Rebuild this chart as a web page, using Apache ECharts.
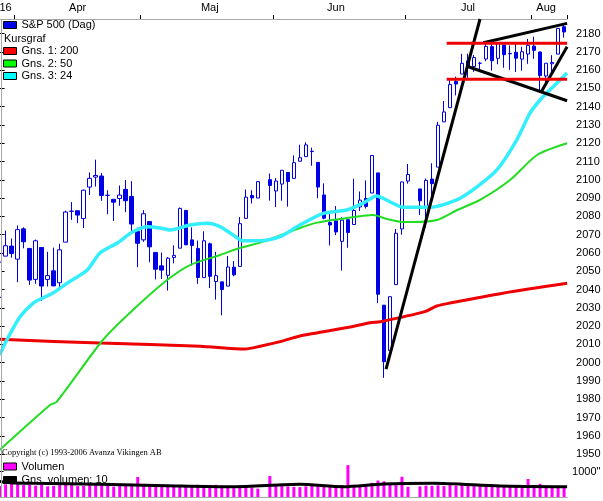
<!DOCTYPE html>
<html>
<head>
<meta charset="utf-8">
<script src="https://cdn.jsdelivr.net/npm/echarts@6/dist/echarts.min.js"></script>
<style>
  html, body { margin: 0; padding: 0; background: #fff; }
  #chart { width: 603px; height: 501px; }
</style>
</head>
<body>
<div id="chart"></div>
<script>
// one slot per weekday, holidays stay empty
const days = [
  '03-29','03-30','03-31',
  '04-01','04-04','04-05','04-06','04-07','04-08','04-11','04-12','04-13','04-14','04-15',
  '04-18','04-19','04-20','04-21','04-22','04-25','04-26','04-27','04-28','04-29',
  '05-02','05-03','05-04','05-05','05-06','05-09','05-10','05-11','05-12','05-13','05-16',
  '05-17','05-18','05-19','05-20','05-23','05-24','05-25','05-26','05-27','05-30','05-31',
  '06-01','06-02','06-03','06-06','06-07','06-08','06-09','06-10','06-13','06-14','06-15',
  '06-16','06-17','06-20','06-21','06-22','06-23','06-24','06-27','06-28','06-29','06-30',
  '07-01','07-04','07-05','07-06','07-07','07-08','07-11','07-12','07-13','07-14','07-15',
  '07-18','07-19','07-20','07-21','07-22','07-25','07-26','07-27','07-28','07-29',
  '08-01','08-02','08-03','08-04','08-05','08-08'
];

const opens = [
  2035.75, 2058.27, 2063.77,
  2056.62, 2073.19, 2062.50, 2045.56, 2063.01, 2045.54, 2050.23, 2043.72, 2065.92, 2082.89, 2083.10,
  2078.83, 2096.05, 2101.52, 2102.09, 2091.49, 2089.37, 2089.84, 2094.80, 2090.93, 2071.82,
  2067.17, 2077.18, 2060.30, 2052.95, 2047.77, 2057.55, 2062.63, 2083.29, 2067.17, 2062.50, 2046.53,
  2065.04, 2044.38, 2044.21, 2041.88, 2052.23, 2052.65, 2078.93, 2091.44, 2090.06, null, 2100.13,
  2093.94, 2097.71, 2104.07, 2100.83, 2110.18, 2112.71, 2115.65, 2109.57, 2091.75, 2076.65, 2077.60,
  2066.36, 2078.20, 2075.58, 2085.19, 2089.75, 2092.80, 2103.81, 2031.45, 2006.67, 2042.69, 2073.17,
  2099.34, null, 2095.05, 2084.43, 2100.42, 2106.97, 2131.72, 2139.50, 2153.81, 2157.88, 2165.13,
  2162.04, 2163.79, 2166.10, 2172.91, 2166.47, 2173.71, 2168.97, 2169.81, 2166.05, 2168.83,
  2173.15, 2169.94, 2156.81, 2163.51, 2168.79, 2183.76
];
const closes = [
  2055.01, 2063.95, 2059.74,
  2072.78, 2066.13, 2045.17, 2066.66, 2041.91, 2047.60, 2041.99, 2061.72, 2082.42, 2082.78, 2080.73,
  2094.34, 2100.80, 2102.40, 2091.48, 2091.58, 2087.79, 2091.70, 2088.60, 2075.81, 2065.30,
  2081.43, 2063.37, 2051.12, 2050.63, 2057.14, 2058.69, 2084.39, 2064.46, 2064.11, 2046.61, 2066.66,
  2047.21, 2047.63, 2040.04, 2052.32, 2048.04, 2076.06, 2090.54, 2090.10, 2099.06, null, 2096.95,
  2099.33, 2105.26, 2099.13, 2109.41, 2112.13, 2119.12, 2115.48, 2096.07, 2079.06, 2075.32, 2071.50,
  2077.99, 2071.22, 2083.25, 2088.90, 2085.45, 2113.32, 2037.41, 2000.54, 2036.09, 2070.77, 2098.86,
  2102.95, null, 2088.55, 2099.73, 2097.90, 2129.90, 2137.16, 2152.14, 2152.43, 2163.75, 2161.74,
  2166.89, 2163.78, 2173.02, 2165.17, 2175.03, 2168.48, 2169.18, 2166.58, 2170.06, 2173.60,
  2170.84, 2157.03, 2163.79, 2164.25, 2182.87, 2180.89
];
const lows = [
  2028.31, 2058.27, 2057.46,
  2043.98, 2062.57, 2042.56, 2043.09, 2033.80, 2041.69, 2041.88, 2039.74, 2065.92, 2078.13, 2076.31,
  2073.65, 2091.68, 2096.32, 2088.52, 2081.20, 2077.52, 2085.80, 2082.31, 2071.62, 2052.28,
  2066.11, 2054.89, 2045.55, 2045.77, 2039.45, 2054.31, 2062.63, 2064.46, 2053.13, 2043.13, 2046.53,
  2040.82, 2034.49, 2025.91, 2041.88, 2047.26, 2052.65, 2078.93, 2087.08, 2090.06, null, 2088.66,
  2085.10, 2088.59, 2085.36, 2100.83, 2110.18, 2112.71, 2107.73, 2089.96, 2078.46, 2064.10, 2069.80,
  2050.37, 2062.84, 2075.58, 2083.02, 2084.36, 2092.80, 2032.57, 1991.68, 2006.67, 2042.69, 2070.00,
  2097.90, null, 2080.86, 2074.02, 2089.39, 2106.97, 2131.72, 2139.50, 2146.21, 2157.88, 2155.79,
  2159.07, 2159.01, 2164.89, 2159.75, 2163.24, 2161.35, 2160.18, 2159.07, 2159.74, 2163.49,
  2166.21, 2147.58, 2152.53, 2159.07, 2168.79, 2177.85
];
const highs = [
  2055.91, 2072.21, 2067.92,
  2075.07, 2074.02, 2062.50, 2067.33, 2063.01, 2060.63, 2062.93, 2065.05, 2083.18, 2087.84, 2083.22,
  2094.66, 2104.05, 2111.05, 2103.78, 2094.32, 2089.37, 2096.87, 2099.89, 2099.30, 2073.85,
  2083.42, 2077.18, 2060.30, 2060.23, 2057.72, 2064.15, 2084.87, 2083.29, 2073.99, 2066.79, 2071.88,
  2065.69, 2060.61, 2044.21, 2058.35, 2055.58, 2079.67, 2094.73, 2094.30, 2099.06, null, 2103.48,
  2100.97, 2105.26, 2104.07, 2113.36, 2119.22, 2120.55, 2117.64, 2109.57, 2098.12, 2081.30, 2085.65,
  2079.62, 2078.20, 2100.66, 2093.66, 2099.71, 2113.32, 2103.81, 2031.45, 2036.09, 2073.13, 2098.94,
  2108.71, null, 2095.05, 2100.72, 2109.08, 2131.71, 2143.16, 2155.40, 2156.45, 2168.99, 2169.05,
  2168.35, 2164.63, 2175.63, 2174.56, 2175.11, 2173.71, 2173.54, 2174.98, 2172.85, 2177.09,
  2178.29, 2170.20, 2163.79, 2168.19, 2182.87, 2185.44
];

// volume (scale: label 1000")
const volumes = [
  430, 500, 560,
  520, 470, 480, 450, 500, 420, 440, 470, 510, 480, 430, 440, 470, 520, 470, 460, 410, 440, 500, 520, 790,
  480, 500, 510, 470, 460, 410, 450, 470, 440, 480, 430, 470, 480, 450, 440, 350, 450, 460, 380, 330, null, 830,
  450, 440, 420, 400, 390, 420, 450, 470, 430, 450, 460, 470, 1260, 440, 460, 480, 560, 650, 620, 520, 470, 800,
  400, null, 420, 450, 440, 460, 430, 470, 450, 500, 460, 430, 460, 450, 420, 400, 440, 430, 450, 470, 710,
  460, 520, 450, 410, 420, 380
];

// moving averages: slot position -> value
const ma200Slot = [0, 16.7, 33.4, 40.9, 43.4, 46.7, 50.0, 58.4, 61.7, 63.4, 70.8, 72.8, 75.0, 83.8, 94.5];
const ma200Val  = [2012.8, 2010.7, 2009.0, 2007.5, 2009.0, 2011.5, 2014.6, 2019.5, 2021.8, 2022.4, 2027.9, 2031.0, 2032.6, 2038.0, 2043.4];
const ma50Slot = [0, 8.4, 9.5, 17.2, 22.2, 27.9, 31.7, 36.7, 40.0, 43.9, 50.0, 52.9, 56.7, 62.2, 64.5, 66.7, 68.8, 72.8, 76.2, 80.0, 85.0, 89.5, 94.5];
const ma50Val  = [1952.2, 1976.8, 1978.6, 2012.4, 2028.8, 2045.2, 2053.4, 2058.9, 2062.7, 2066.2, 2073.7, 2076.6, 2078.6, 2080.8, 2078.6, 2077.1, 2076.9, 2078.0, 2083.5, 2089.0, 2099.9, 2113.6, 2120.0];
const ma24Slot = [0, 1.2, 3.4, 5.6, 7.2, 8.9, 11.2, 14.6, 16.7, 19.6, 22.2, 24.6, 26.7, 28.4, 31.7, 34.5, 36.7, 38.9, 40.5, 43.4, 46.7, 50.0, 53.9, 57.8, 60.5, 62.8, 65.0, 67.2, 71.7, 76.1, 79.5, 82.8, 86.1, 88.3, 90.0, 92.2, 94.5];
const ma24Val  = [2004.2, 2012.4, 2025.1, 2032.6, 2035.4, 2038.1, 2043.4, 2050.7, 2060.0, 2065.5, 2071.6, 2074.4, 2073.7, 2072.6, 2075.3, 2076.2, 2074.4, 2069.8, 2066.7, 2066.7, 2068.9, 2075.3, 2081.7, 2083.5, 2087.2, 2091.2, 2088.0, 2085.0, 2085.0, 2089.0, 2096.2, 2105.4, 2121.8, 2136.4, 2143.7, 2151.0, 2158.5];
const volMaSlot = [0, 1.7, 5.6, 16.7, 27.9, 38.9, 50.0, 57.2, 63.9, 72.2, 83.3, 94.5];
const volMaVal  = [612, 565, 540, 500, 447, 407, 500, 407, 514, 540, 435, 407];

// hand-drawn trend lines: [slot1, price1, slot2, price2]
const blackLines = [
  [64.35, 1996.5, 80.0, 2188.0],
  [78.05, 2161.9, 94.5, 2143.3],
  [90.16, 2147.9, 94.5, 2172.8],
  [80.55, 2175.0, 94.5, 2185.6]
];
const redLevels = [2174.7, 2155.0];
const redLevelFrom = 74.45;

const priceTicks = [1950, 1960, 1970, 1980, 1990, 2000, 2010, 2020, 2030, 2040, 2050, 2060, 2070, 2080,
  2090, 2100, 2110, 2120, 2130, 2140, 2150, 2160, 2170, 2180];
const monthLabels = {'03-30': '16', '04-15': 'Apr', '05-17': 'Maj', '06-15': 'Jun', '07-15': 'Jul', '08-03': 'Aug'};

const BLUE = '#0000e6', RED = '#ee0000', GREEN = '#22dd22', CYAN = '#33eeff', MAGENTA = '#ff00ff';
const FRAME = '#a8a8a8';
const FONT = 'Liberation Sans, Arial, sans-serif';

const candleData = days.map((d, i) => opens[i] == null ? '-' : [opens[i], closes[i], lows[i], highs[i]]);
const pairs = (xs, ys) => xs.map((x, i) => [x, ys[i]]);
const isMonthStart = i => i > 0 && days[i].slice(0, 2) !== days[i - 1].slice(0, 2);

const legendDefs = [
  {name: 'S&P 500 (Dag)', color: BLUE, top: 19.5},
  {name: 'Gns. 1: 200', color: '#ff0000', top: 45.5},
  {name: 'Gns. 2: 50', color: '#00ff00', top: 58},
  {name: 'Gns. 3: 24', color: '#00ffff', top: 70.5},
  {name: 'Volumen', color: MAGENTA, top: 461},
  {name: 'Gns. volumen: 10', color: '#000000', top: 474.5}
];

const lineSeries = (name, data, color, width, xi, yi) => ({
  name: name, type: 'line', xAxisIndex: xi, yAxisIndex: yi, data: data,
  showSymbol: false, symbol: 'none', smooth: 0.25, clip: true,
  lineStyle: {color: color, width: width}, itemStyle: {color: color},
  emphasis: {disabled: true}, silent: true
});

const series = [
  {
    name: 'S&P 500 (Dag)', type: 'candlestick', xAxisIndex: 0, yAxisIndex: 0,
    data: candleData, barWidth: 4, clip: true, silent: true,
    itemStyle: {color: '#ffffff', color0: BLUE, borderColor: BLUE, borderColor0: BLUE, borderColorDoji: BLUE, borderWidth: 1}
  },
  lineSeries('Gns. 1: 200', pairs(ma200Slot, ma200Val), RED, 3, 1, 0),
  lineSeries('Gns. 2: 50', pairs(ma50Slot, ma50Val), GREEN, 2, 1, 0),
  lineSeries('Gns. 3: 24', pairs(ma24Slot, ma24Val), CYAN, 3.5, 1, 0)
];
blackLines.forEach((l, k) => {
  const s = lineSeries('trend' + k, [[l[0], l[1]], [l[2], l[3]]], '#000', 3, 1, 0);
  s.smooth = false;
  series.push(s);
});
redLevels.forEach((v, k) => {
  const s = lineSeries('level' + k, [[redLevelFrom, v], [94.5, v]], RED, 3, 1, 0);
  s.smooth = false;
  series.push(s);
});
series.push({
  name: 'Volumen', type: 'bar', xAxisIndex: 2, yAxisIndex: 1,
  data: volumes.map(v => v == null ? '-' : v), barWidth: 3, silent: true,
  itemStyle: {color: MAGENTA}
});
series.push(lineSeries('Gns. volumen: 10', pairs(volMaSlot, volMaVal), '#000', 3, 3, 1));

const option = {
  animation: false,
  backgroundColor: '#ffffff',
  textStyle: {fontFamily: FONT},
  grid: [
    {left: -3.4, width: 570.5, top: 19, height: 440, containLabel: false, outerBoundsMode: 'none'},
    {left: -3.4, width: 570.5, top: 459, height: 38, containLabel: false, outerBoundsMode: 'none'}
  ],
  xAxis: [
    {
      type: 'category', gridIndex: 0, position: 'top', data: days, boundaryGap: true,
      axisLine: {show: true, lineStyle: {color: FRAME, width: 1}},
      axisTick: {show: true, length: 4, interval: (i) => isMonthStart(i), lineStyle: {color: '#000'}},
      axisLabel: {
        show: true, margin: 6, fontSize: 11, color: '#000', fontFamily: FONT,
        interval: (i, v) => monthLabels[v] !== undefined,
        formatter: (v) => monthLabels[v] || ''
      },
      splitLine: {show: false}
    },
    {type: 'value', gridIndex: 0, min: -0.5, max: 94.5, show: false},
    {
      type: 'category', gridIndex: 1, position: 'top', data: days, boundaryGap: true,
      axisLine: {show: true, lineStyle: {color: FRAME, width: 1}},
      axisTick: {show: false}, axisLabel: {show: false}, splitLine: {show: false}
    },
    {
      type: 'value', gridIndex: 1, position: 'bottom', min: -0.5, max: 94.5,
      axisLine: {show: true, onZero: false, lineStyle: {color: FRAME, width: 1}},
      axisTick: {show: false}, axisLabel: {show: false}, splitLine: {show: false}
    }
  ],
  yAxis: [
    {
      type: 'value', gridIndex: 0, position: 'right', min: 1947.3, max: 2188.0, scale: true,
      axisLine: {show: true, lineStyle: {color: FRAME, width: 1}},
      axisTick: {show: true, length: 5, customValues: priceTicks, lineStyle: {color: '#000'}},
      axisLabel: {show: true, margin: 9, fontSize: 11, color: '#000', fontFamily: FONT,
        customValues: priceTicks, formatter: (v) => String(v)},
      splitLine: {show: false}
    },
    {
      type: 'value', gridIndex: 1, position: 'right', min: 0, max: 1500,
      axisLine: {show: true, lineStyle: {color: FRAME, width: 1}},
      axisTick: {show: true, length: 4, customValues: [1000], lineStyle: {color: '#000'}},
      axisLabel: {show: true, margin: 5, fontSize: 11, color: '#000', fontFamily: FONT,
        customValues: [1000], formatter: (v) => String(v) + '"'},
      splitLine: {show: false}
    }
  ],
  legend: legendDefs.map(d => ({
    data: [{name: d.name, itemStyle: {color: d.color, borderColor: '#000', borderWidth: 1}}],
    orient: 'vertical', left: 3, top: d.top, padding: 0,
    icon: 'rect', itemWidth: 13, itemHeight: 7, selectedMode: false,
    textStyle: {fontSize: 11, color: '#000', fontFamily: FONT}
  })),
  graphic: [
    {type: 'line', silent: true, z: 10, shape: {x1: 1.5, y1: 19, x2: 1.5, y2: 497}, style: {stroke: FRAME, lineWidth: 1}},
    {type: 'text', silent: true, left: 4, top: 33, style: {text: 'Kursgraf', fontSize: 11, fill: '#000', fontFamily: FONT}},
    {type: 'text', silent: true, left: 2, top: 448, style: {text: 'Copyright (c) 1993-2006 Avanza Vikingen AB', fontSize: 8.5, fill: '#000', fontFamily: 'Liberation Serif, Times New Roman, serif'}}
  ],
  series: series
};

const chart = echarts.init(document.getElementById('chart'), null, {renderer: 'canvas'});
chart.setOption(option);
</script>
</body>
</html>
